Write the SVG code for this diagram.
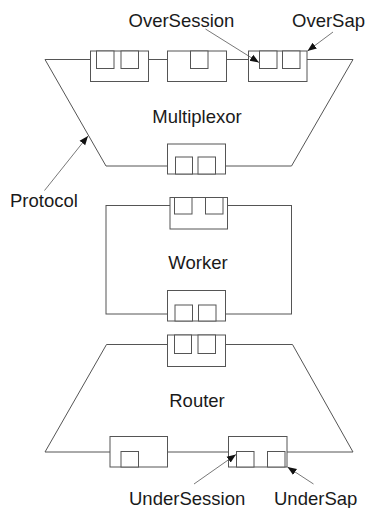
<svg xmlns="http://www.w3.org/2000/svg" width="369" height="508" viewBox="0 0 369 508">
<defs>
<style>
.ln{fill:none;stroke:#555;stroke-width:1}
.bx{fill:#fff;stroke:#555;stroke-width:1}
.t{font-family:"Liberation Sans",Arial,sans-serif;font-size:18.5px;fill:#1a1a1a}
.ar{fill:none;stroke:#555;stroke-width:0.8}
</style>
<marker id="ah" viewBox="0 0 10 10" refX="10" refY="5" markerWidth="9" markerHeight="9" markerUnits="userSpaceOnUse" orient="auto">
<path d="M0,1 L10,5 L0,9 Z" fill="#111"/>
</marker>
</defs>
<rect width="369" height="508" fill="#fff"/>
<g id="multiplexor">
<polygon class="ln" points="45,59.5 353,59.5 291.5,166 106,166"/>
<g id="mux-port1"><rect class="bx" x="90.5" y="51" width="58" height="30.5"/><rect class="bx" x="96.5" y="51" width="17.5" height="17.5"/><rect class="bx" x="121" y="51" width="17.5" height="17.5"/></g>
<g id="mux-port2"><rect class="bx" x="167.5" y="51" width="59" height="30.5"/><rect class="bx" x="190.5" y="51" width="17.5" height="17.5"/></g>
<g id="mux-port3"><rect class="bx" x="248.5" y="51" width="58.5" height="30.5"/><rect class="bx" x="259.5" y="51" width="17.5" height="17.5"/><rect class="bx" x="282.5" y="51" width="17.5" height="17.5"/></g>
<g id="mux-port4"><rect class="bx" x="167.5" y="144" width="58" height="30"/><rect class="bx" x="175.5" y="157" width="17" height="17"/><rect class="bx" x="198" y="157" width="17.5" height="17"/></g>
<text class="t" x="197" y="123" text-anchor="middle">Multiplexor</text>
</g>
<g id="worker">
<rect class="ln" x="106" y="205.5" width="185.5" height="108.5"/>
<g id="wk-port1"><rect class="bx" x="170" y="197.5" width="57.5" height="31.5"/><rect class="bx" x="174.5" y="197.5" width="17.5" height="16.5"/><rect class="bx" x="205.5" y="197.5" width="17.5" height="16.5"/></g>
<g id="wk-port2"><rect class="bx" x="167.5" y="290.5" width="58" height="30.5"/><rect class="bx" x="175" y="305" width="17.5" height="16"/><rect class="bx" x="198.5" y="305" width="17.5" height="16"/></g>
<text class="t" x="198" y="269" text-anchor="middle">Worker</text>
</g>
<g id="router">
<polygon class="ln" points="106.5,344.5 292.5,344.5 353,452 45,452"/>
<g id="rt-port1"><rect class="bx" x="167.5" y="335" width="58" height="31.5"/><rect class="bx" x="174.5" y="335" width="17" height="18.5"/><rect class="bx" x="198" y="335" width="17.5" height="18.5"/></g>
<g id="rt-port2"><rect class="bx" x="110" y="436.5" width="57.5" height="30.5"/><rect class="bx" x="121" y="451.5" width="17.5" height="15.5"/></g>
<g id="rt-port3"><rect class="bx" x="228.5" y="436.5" width="58.5" height="30.5"/><rect class="bx" x="236.5" y="451.5" width="17.5" height="15.5"/><rect class="bx" x="267.5" y="451.5" width="17.5" height="15.5"/></g>
<text class="t" x="197" y="407" text-anchor="middle">Router</text>
</g>
<g id="labels">
<text class="t" x="128.5" y="27">OverSession</text>
<text class="t" x="292" y="27">OverSap</text>
<text class="t" x="10" y="207">Protocol</text>
<text class="t" x="129" y="504.5">UnderSession</text>
<text class="t" x="274" y="504.5">UnderSap</text>
</g>
<g id="connectors">
<line class="ar" x1="205.5" y1="29" x2="259" y2="62.5" marker-end="url(#ah)"/>
<line class="ar" x1="333" y1="32" x2="307.5" y2="51" marker-end="url(#ah)"/>
<line class="ar" x1="44.5" y1="190.5" x2="88" y2="136" marker-end="url(#ah)"/>
<line class="ar" x1="194" y1="484" x2="236" y2="454.5" marker-end="url(#ah)"/>
<line class="ar" x1="313.5" y1="484" x2="287.5" y2="467" marker-end="url(#ah)"/>
</g>
</svg>
